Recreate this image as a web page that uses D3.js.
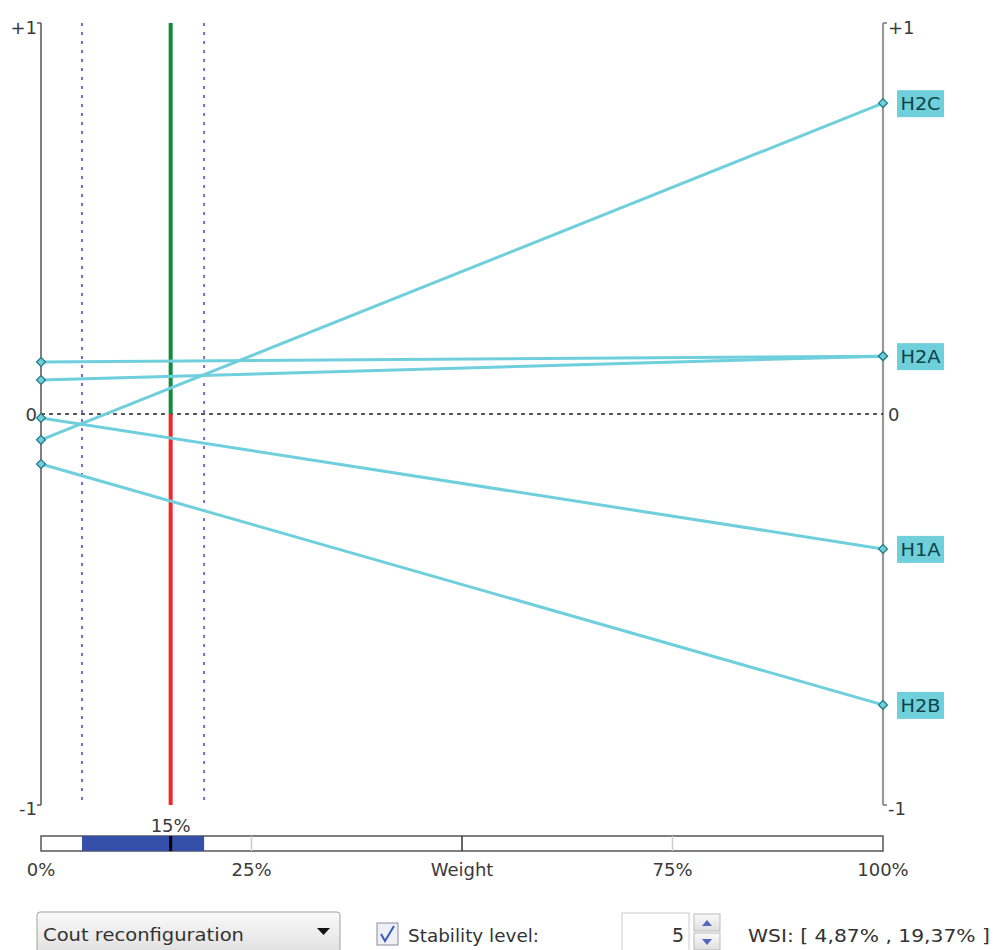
<!DOCTYPE html>
<html><head><meta charset="utf-8">
<script src="https://cdn.jsdelivr.net/npm/d3@7/dist/d3.min.js"></script>
<style>
body{margin:0;background:#fff;}
svg text{font-family:"DejaVu Sans",sans-serif;}
</style></head>
<body><svg id="c" width="1004" height="950"></svg>
<script>
// Data
const alternatives = ["H2C", "H2A", "H1B", "H1A", "H2B"];
const leftValues  = [-0.066, 0.133, 0.087, -0.010, -0.128];
const rightValues = [0.795, 0.148, 0.148, -0.345, -0.744];
const currentWeight = 15.4;      // %
const weightLabel = "15%";
const wsiRange = [4.87, 19.37];  // %
const weightTicks = [0, 25, 50, 75, 100];
const weightTickLabels = ["0%", "25%", "Weight", "75%", "100%"];
const yTickValues = [1, 0, -1];
const yTickLabels = ["+1", "0", "-1"];
const criterion = "Cout reconfiguration";
const stabilityLevel = 5;
const wsiText = "WSI: [ 4,87% , 19,37% ]";

const svg = d3.select("#c");
const x = d3.scaleLinear().domain([0, 100]).range([41, 883]);
const y = d3.scaleLinear().domain([-1, 1]).range([805, 23]);
const lineColor = "#6fcfdc";
const txt = "#3a3a3a";

// Axes
const L = x(0), R = x(100);
svg.append("line").attr("x1", L).attr("x2", L).attr("y1", y(1)).attr("y2", y(-1)).attr("stroke", "#555").attr("stroke-width", 1.5);
svg.append("line").attr("x1", R).attr("x2", R).attr("y1", y(1)).attr("y2", y(-1)).attr("stroke", "#999").attr("stroke-width", 2.2);
[1, -1].forEach(v => {
  svg.append("line").attr("x1", L - 4).attr("x2", L).attr("y1", y(v)).attr("y2", y(v)).attr("stroke", "#555").attr("stroke-width", 1.5);
  svg.append("line").attr("x1", R).attr("x2", R + 4).attr("y1", y(v)).attr("y2", y(v)).attr("stroke", "#777").attr("stroke-width", 1.5);
});
yTickValues.forEach((v, i) => {
  const dy = v === 1 ? 11 : v === -1 ? 10 : 7;
  svg.append("text").attr("x", L - 4).attr("y", y(v) + dy)
    .attr("text-anchor", "end").attr("font-size", 18).attr("fill", txt).text(yTickLabels[i]);
  svg.append("text").attr("x", R + 5).attr("y", y(v) + dy)
    .attr("text-anchor", "start").attr("font-size", 18).attr("fill", txt).text(yTickLabels[i]);
});

// zero dashed line
svg.append("line").attr("x1", L).attr("x2", R).attr("y1", y(0)).attr("y2", y(0))
  .attr("stroke", "#222").attr("stroke-width", 1.3).attr("stroke-dasharray", "4,4");

// WSI dotted lines
wsiRange.forEach(w => {
  svg.append("line").attr("x1", x(w)).attr("x2", x(w)).attr("y1", y(1)).attr("y2", y(-1))
    .attr("stroke", "#6f6fd0").attr("stroke-width", 2).attr("stroke-dasharray", "3,6");
});

// current weight line
svg.append("line").attr("x1", x(currentWeight)).attr("x2", x(currentWeight)).attr("y1", y(1)).attr("y2", y(0))
  .attr("stroke", "#138a3e").attr("stroke-width", 4);
svg.append("line").attr("x1", x(currentWeight)).attr("x2", x(currentWeight)).attr("y1", y(0)).attr("y2", y(-1))
  .attr("stroke", "#f02828").attr("stroke-width", 4);

// alternative lines
alternatives.forEach((a, i) => {
  svg.append("line").attr("x1", L).attr("x2", R).attr("y1", y(leftValues[i])).attr("y2", y(rightValues[i]))
    .attr("stroke", lineColor).attr("stroke-width", 3);
});
const diamond = d3.symbol().type(d3.symbolDiamond2).size(50);
alternatives.forEach((a, i) => {
  [[L, leftValues[i]], [R, rightValues[i]]].forEach(([px, v]) => {
    svg.append("path").attr("d", diamond()).attr("transform", `translate(${px},${y(v)})`)
      .attr("fill", lineColor).attr("stroke", "#257d85").attr("stroke-width", 1.3);
  });
});
// labels (one per right-end position)
const seen = new Set();
alternatives.forEach((a, i) => {
  const key = rightValues[i].toFixed(3);
  if (seen.has(key)) return;
  seen.add(key);
  const g = svg.append("g").attr("transform", `translate(${R + 14},${y(rightValues[i])})`);
  g.append("rect").attr("x", 0).attr("y", -13).attr("width", 47).attr("height", 27).attr("fill", "#6fd0dc");
  g.append("text").attr("x", 23.5).attr("y", 7).attr("text-anchor", "middle").attr("font-size", 17)
    .attr("textLength", 40).attr("lengthAdjust", "spacingAndGlyphs").attr("fill", "#0c4448").text(a);
});

// weight bar
const barY = 836, barH = 15;
svg.append("rect").attr("x", L).attr("y", barY).attr("width", R - L).attr("height", barH)
  .attr("fill", "#fff").attr("stroke", "#555").attr("stroke-width", 1.5);
svg.append("rect").attr("x", x(wsiRange[0])).attr("y", barY).attr("width", x(wsiRange[1]) - x(wsiRange[0])).attr("height", barH)
  .attr("fill", "#3450a8");
weightTicks.forEach((t, i) => {
  if (t === 0 || t === 100) return;
  svg.append("line").attr("x1", x(t)).attr("x2", x(t)).attr("y1", barY).attr("y2", barY + barH)
    .attr("stroke", t === 50 ? "#333" : "#ccc").attr("stroke-width", 1.5);
});
svg.append("line").attr("x1", x(currentWeight)).attr("x2", x(currentWeight)).attr("y1", barY).attr("y2", barY + barH)
  .attr("stroke", "#000").attr("stroke-width", 3);
// 15% label
svg.append("rect").attr("x", x(currentWeight) - 28).attr("y", 813).attr("width", 56).attr("height", 22).attr("fill", "#fff");
svg.append("text").attr("x", x(currentWeight)).attr("y", 832).attr("text-anchor", "middle").attr("font-size", 18).attr("fill", txt).text(weightLabel);
weightTicks.forEach((t, i) => {
  svg.append("text").attr("x", x(t)).attr("y", 876).attr("text-anchor", "middle").attr("font-size", 18).attr("fill", txt).text(weightTickLabels[i]);
});

// controls
const defs = svg.append("defs");
const gr = defs.append("linearGradient").attr("id", "btn").attr("x1", 0).attr("x2", 0).attr("y1", 0).attr("y2", 1);
gr.append("stop").attr("offset", "0").attr("stop-color", "#fafafa");
gr.append("stop").attr("offset", "1").attr("stop-color", "#dedede");
svg.append("rect").attr("x", 37).attr("y", 912).attr("width", 303).attr("height", 44).attr("rx", 3)
  .attr("fill", "url(#btn)").attr("stroke", "#a0a0a0");
svg.append("text").attr("x", 43).attr("y", 941).attr("font-size", 18).attr("textLength", 201).attr("lengthAdjust", "spacingAndGlyphs")
  .attr("fill", "#333").text(criterion);
svg.append("path").attr("d", "M317,928 L330,928 L323.5,935 Z").attr("fill", "#111");

svg.append("rect").attr("x", 377).attr("y", 923).attr("width", 21).attr("height", 22).attr("fill", "#eef0f6").attr("stroke", "#8a8a9a");
svg.append("path").attr("d", "M381,934 L385,941 L394,926").attr("fill", "none").attr("stroke", "#3a5ab8").attr("stroke-width", 2);
svg.append("text").attr("x", 408).attr("y", 942).attr("font-size", 18).attr("textLength", 131).attr("lengthAdjust", "spacingAndGlyphs")
  .attr("fill", "#333").text("Stability level:");

svg.append("rect").attr("x", 622).attr("y", 913).attr("width", 67).attr("height", 40).attr("fill", "#fff").attr("stroke", "#ccc");
svg.append("text").attr("x", 684).attr("y", 942).attr("text-anchor", "end").attr("font-size", 19).attr("fill", "#333").text(stabilityLevel);
svg.append("rect").attr("x", 694).attr("y", 914).attr("width", 26).attr("height", 17).attr("fill", "url(#btn)").attr("stroke", "#bbb");
svg.append("rect").attr("x", 694).attr("y", 933).attr("width", 26).attr("height", 17).attr("fill", "url(#btn)").attr("stroke", "#bbb");
svg.append("path").attr("d", "M702,926 L712,926 L707,920 Z").attr("fill", "#5566bb");
svg.append("path").attr("d", "M702,939 L712,939 L707,945 Z").attr("fill", "#5566bb");
svg.append("text").attr("x", 748).attr("y", 942).attr("font-size", 18).attr("textLength", 242).attr("lengthAdjust", "spacingAndGlyphs")
  .attr("fill", "#333").text(wsiText);
</script></body></html>
